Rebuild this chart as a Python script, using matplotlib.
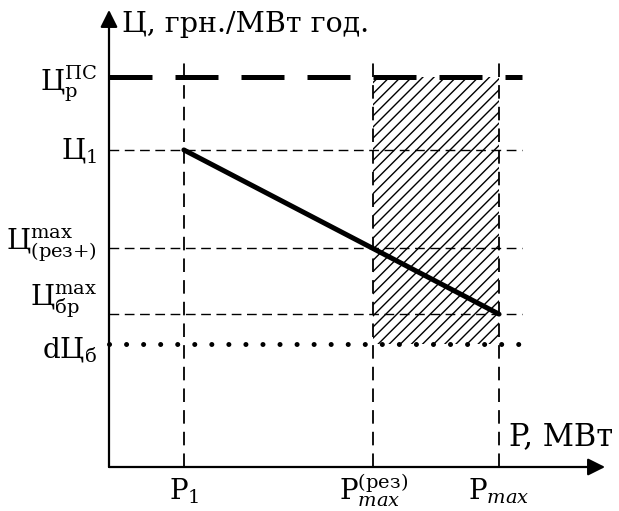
import matplotlib
matplotlib.use("Agg")
import matplotlib.pyplot as plt

# Values (arbitrary units, same scale on both axes)
p_names = ["P1", "P_res", "P_max"]
p_values = [1.92, 6.77, 10.0]          # P1, Pmax(рез), Pmax

c_names = ["Ц_р_ПС", "Ц1", "Ц_рез", "Ц_бр", "dЦ_б"]
c_values = [10.0, 8.13, 5.62, 3.92, 3.15]

p_labels = [r"P$_{1}$", r"P$^{\mathrm{(рез)}}_{max}$", r"P$_{max}$"]
c_labels = [r"Ц$_{\mathrm{р}}^{\mathrm{ПС}}$", r"Ц$_{1}$",
            r"Ц$^{\mathrm{max}}_{\mathrm{(рез{+})}}$", r"Ц$^{\mathrm{max}}_{\mathrm{бр}}$",
            r"dЦ$_{\mathrm{б}}$"]

y_title = "Ц, грн./МВт год."
x_title = "P, МВт"

plt.rcParams["font.family"] = "DejaVu Serif"
plt.rcParams["mathtext.fontset"] = "custom"
plt.rcParams["mathtext.rm"] = "DejaVu Serif"
plt.rcParams["mathtext.it"] = "DejaVu Serif:italic"
plt.rcParams["hatch.linewidth"] = 1.0

W, H, DPI = 619, 511, 100
PX = 39.0            # pixels per data unit
X0, Y0 = 109, 467    # origin in pixels (from left / from top)

fig = plt.figure(figsize=(W / DPI, H / DPI), dpi=DPI)
ax = fig.add_axes([0, 0, 1, 1])
ax.set_xlim(-X0 / PX, (W - X0) / PX)
ax.set_ylim(-(H - Y0) / PX, Y0 / PX)
ax.axis("off")

P1, Pres, Pmax = p_values
Cps, C1, Cres, Cbr, dCb = c_values

x_end = Pmax + 0.6        # how far the horizontal guides run
y_end = Cps + 0.45        # how far the vertical guides run

# axes with arrows
arrow = dict(arrowstyle="-|>", lw=1.6, color="black",
             mutation_scale=26, shrinkA=0, shrinkB=0)
ax.annotate("", xy=(12.72, 0), xytext=(0, 0), arrowprops=arrow)
ax.annotate("", xy=(0, 11.72), xytext=(0, 0), arrowprops=arrow)

# hatched zone
ax.fill_between([Pres, Pmax], dCb, Cps, facecolor="none", edgecolor="black",
                hatch="///", linewidth=0, zorder=1)

# thin dashed guides
ax.hlines([C1, Cres, Cbr], 0, x_end, colors="black", lw=1.0,
          linestyles=[(0, (7, 4))], zorder=2)
ax.vlines(p_values, 0, y_end, colors="black", lw=1.3,
          linestyles=[(0, (7.5, 4.5))], zorder=2)

# heavy dashed price line
ax.plot([0, x_end], [Cps, Cps], color="black", lw=3.6,
        ls=(0, (8.6, 4.6)), dash_capstyle="butt", zorder=3)

# dotted line
ax.plot([0, x_end], [dCb, dCb], color="black", lw=3.6,
        ls=(0, (0.01, 3.4)), dash_capstyle="round", zorder=3)

# main characteristic
ax.plot([P1, Pmax], [C1, Cbr], color="black", lw=3.6,
        solid_capstyle="round", zorder=4)

# labels (baseline offsets in pixels relative to each guide line)
c_offsets = [-13, -9, -3, 8, -13]
for val, lab, off in zip(c_values, c_labels, c_offsets):
    ax.text(-0.3, val + off / PX, lab, ha="right", va="baseline", fontsize=20)
for val, lab in zip(p_values, p_labels):
    ax.text(val, -32 / PX, lab, ha="center", va="baseline", fontsize=20)

ax.text(0.33, 11.15, y_title, ha="left", va="baseline", fontsize=20.5)
ax.text(10.25, 0.56, x_title, ha="left", va="baseline", fontsize=22)

fig.savefig("out.png", dpi=DPI)
